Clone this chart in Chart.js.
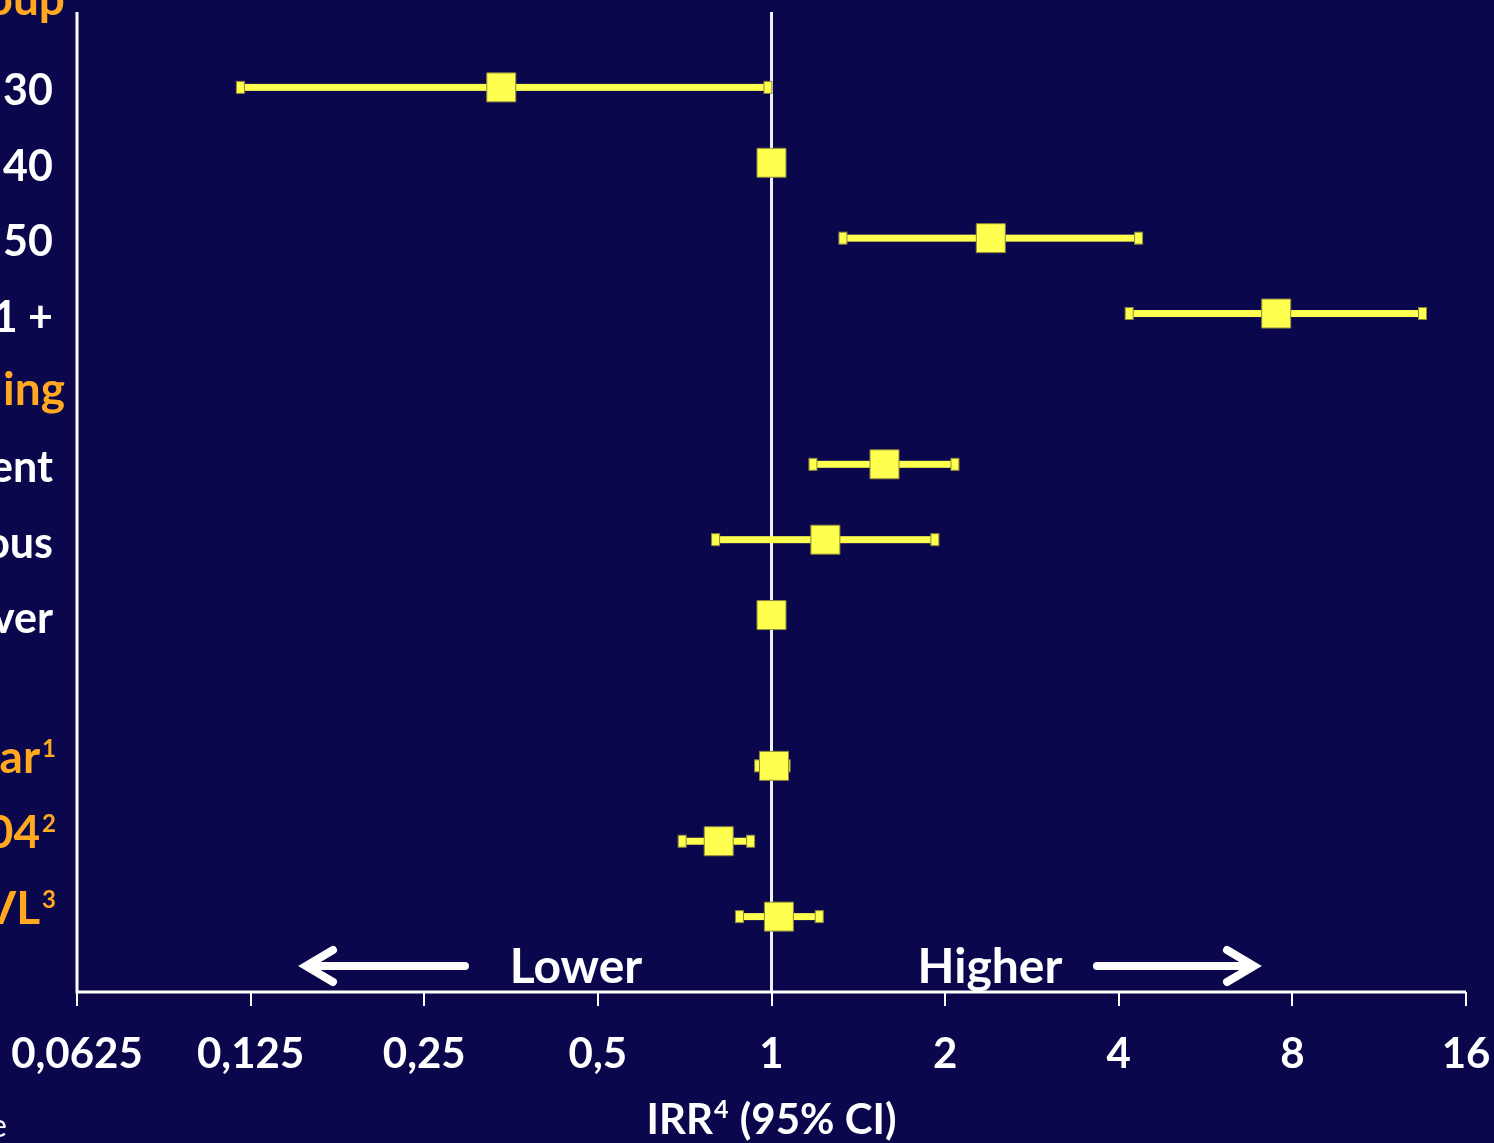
<!DOCTYPE html>
<html>
<head>
<meta charset="utf-8">
<title>IRR forest plot</title>
<script src="https://cdn.jsdelivr.net/npm/chart.js@4.4.1/dist/chart.umd.min.js"></script>
<style>
  html, body { margin: 0; padding: 0; background: #0b074d; overflow: hidden; }
  canvas { display: block; }
</style>
</head>
<body>
<canvas id="forestChart" width="1494" height="1143"></canvas>
<script>
// rows from top to bottom (the left labels are cropped in the original slide)
const rowLabels = ['oup', '30', '40', '50', '1 +', 'ing', 'ent', 'ous', 'ver', '', 'ar', '04', 'VL'];
const rowSups   = ['', '', '', '', '', '', '', '', '', '', '1', '2', '3'];
const rowKinds  = ['head', 'item', 'item', 'item', 'item', 'head', 'item', 'item', 'item', 'blank', 'var', 'var', 'var'];

// incidence rate ratio with 95% CI for each row
const irr     = [null, 0.34, 1, 2.40, 7.50, null, 1.57, 1.24, 1, null, 1.01, 0.81, 1.03];
const ciLower = [null, 0.12, null, 1.33, 4.17, null, 1.18, 0.80, null, null, 0.95, 0.70, 0.88];
const ciUpper = [null, 0.986, null, 4.33, 13.45, null, 2.08, 1.92, null, null, 1.06, 0.92, 1.21];

// x axis ticks (log2 spacing)
const tickValues = [0.0625, 0.125, 0.25, 0.5, 1, 2, 4, 8, 16];
const tickLabels = ['0,0625', '0,125', '0,25', '0,5', '1', '2', '4', '8', '16'];

const YELLOW = '#ffff4f';
const ORANGE = '#ffa820';
const WHITE = '#ffffff';

const points = [];
irr.forEach((v, i) => { if (v !== null) points.push({ x: v, y: i }); });

// draws axes, reference line, CI bars and all slide text
const forestDecor = {
    id: 'forestDecor',
    beforeDatasetsDraw(chart) {
        const ctx = chart.ctx;
        const area = chart.chartArea;
        const xs = chart.scales.x;
        const ys = chart.scales.y;
        ctx.save();
        ctx.strokeStyle = WHITE;
        ctx.lineWidth = 3;
        ctx.beginPath();
        ctx.moveTo(area.left, area.top);
        ctx.lineTo(area.left, area.bottom);
        ctx.lineTo(area.right, area.bottom);
        ctx.stroke();

        // tick marks
        ctx.lineWidth = 2;
        tickValues.forEach(v => {
            const px = Math.round(xs.getPixelForValue(v));
            ctx.beginPath();
            ctx.moveTo(px, area.bottom);
            ctx.lineTo(px, area.bottom + 14);
            ctx.stroke();
        });

        // line of no effect
        ctx.strokeStyle = '#f2f0ff';
        ctx.lineWidth = 3;
        const x1 = xs.getPixelForValue(1);
        ctx.beginPath();
        ctx.moveTo(x1, area.top);
        ctx.lineTo(x1, area.bottom);
        ctx.stroke();

        // confidence intervals
        ciLower.forEach((lo, i) => {
            if (lo === null) return;
            const y = ys.getPixelForValue(i);
            const xl = xs.getPixelForValue(lo);
            const xu = xs.getPixelForValue(ciUpper[i]);
            ctx.fillStyle = YELLOW;
            ctx.strokeStyle = '#8c8a3c';
            ctx.lineWidth = 1;
            ctx.fillRect(xl, y - 3.5, xu - xl, 7);
            [xl, xu].forEach(cx => {
                ctx.fillRect(cx - 4, y - 6, 8, 12);
                ctx.strokeRect(cx - 4, y - 6, 8, 12);
            });
        });
        ctx.restore();
    },
    afterDatasetsDraw(chart) {
        const ctx = chart.ctx;
        const area = chart.chartArea;
        const xs = chart.scales.x;
        const ys = chart.scales.y;
        ctx.save();
        ctx.textAlign = 'right';
        ctx.textBaseline = 'alphabetic';

        // row labels
        rowLabels.forEach((txt, i) => {
            if (!txt) return;
            const y = ys.getPixelForValue(i);
            const kind = rowKinds[i];
            if (kind === 'item') {
                ctx.fillStyle = WHITE;
                ctx.font = 'bold 43px Lato';
                ctx.fillText(txt, 53, y + 18);
            } else if (kind === 'head') {
                ctx.fillStyle = ORANGE;
                ctx.font = 'bold 46px Lato';
                ctx.fillText(txt, 65, i === 0 ? area.top + 3 : y + 16);
            } else {
                ctx.fillStyle = ORANGE;
                ctx.font = 'bold 24px Lato';
                const supW = ctx.measureText(rowSups[i]).width;
                ctx.fillText(rowSups[i], 56, y - 9);
                ctx.font = 'bold 46px Lato';
                ctx.fillText(txt, 56 - supW - 2, y + 7);
            }
        });

        // tick labels
        ctx.fillStyle = WHITE;
        ctx.textAlign = 'center';
        ctx.font = 'bold 42px Lato';
        tickValues.forEach((v, i) => {
            ctx.fillText(tickLabels[i], xs.getPixelForValue(v), area.bottom + 76);
        });

        // axis title
        const cx = xs.getPixelForValue(1);
        ctx.textAlign = 'left';
        ctx.font = 'bold 42px Lato';
        const wA = ctx.measureText('IRR').width;
        const wC = ctx.measureText(' (95% CI)').width;
        ctx.font = 'bold 25px Lato';
        const wB = ctx.measureText('4').width + 2;
        let tx = cx - (wA + wB + wC) / 2;
        ctx.font = 'bold 42px Lato';
        ctx.fillText('IRR', tx, 1134);
        ctx.font = 'bold 25px Lato';
        ctx.fillText('4', tx + wA + 1, 1118);
        ctx.font = 'bold 42px Lato';
        ctx.fillText(' (95% CI)', tx + wA + wB, 1134);

        // cropped footnote
        ctx.textAlign = 'right';
        ctx.font = '32px Lato';
        ctx.fillText('e', 7, 1137);

        // Lower / Higher with arrows
        ctx.textAlign = 'center';
        ctx.font = 'bold 48px Lato';
        ctx.fillText('Lower', 576, 983);
        ctx.fillText('Higher', 990, 983);

        ctx.strokeStyle = WHITE;
        ctx.lineWidth = 8;
        ctx.lineCap = 'round';
        ctx.lineJoin = 'miter';
        const ay = 966;
        ctx.beginPath();
        ctx.moveTo(465, ay); ctx.lineTo(310, ay);
        ctx.moveTo(333, ay - 16); ctx.lineTo(306, ay); ctx.lineTo(333, ay + 16);
        ctx.moveTo(1097, ay); ctx.lineTo(1250, ay);
        ctx.moveTo(1227, ay - 16); ctx.lineTo(1254, ay); ctx.lineTo(1227, ay + 16);
        ctx.stroke();
        ctx.restore();
    }
};

const chart = new Chart(document.getElementById('forestChart'), {
    type: 'scatter',
    data: {
        datasets: [{
            label: 'IRR',
            data: points,
            pointStyle: 'rect',
            pointRadius: 20.5,
            pointHoverRadius: 20.5,
            backgroundColor: YELLOW,
            borderColor: '#8c8a3c',
            borderWidth: 1
        }]
    },
    options: {
        responsive: false,
        animation: false,
        layout: { autoPadding: false, padding: { left: 77, right: 28, top: 12, bottom: 151 } },
        plugins: { legend: { display: false }, tooltip: { enabled: false } },
        scales: {
            x: {
                type: 'logarithmic',
                min: 0.0625,
                max: 16,
                bounds: 'data',
                display: false,
                afterBuildTicks: axis => { axis.ticks = tickValues.map(v => ({ value: v })); }
            },
            y: {
                type: 'linear',
                min: 0,
                max: 13,
                reverse: true,
                bounds: 'data',
                display: false
            }
        }
    },
    plugins: [forestDecor]
});
</script>
</body>
</html>
